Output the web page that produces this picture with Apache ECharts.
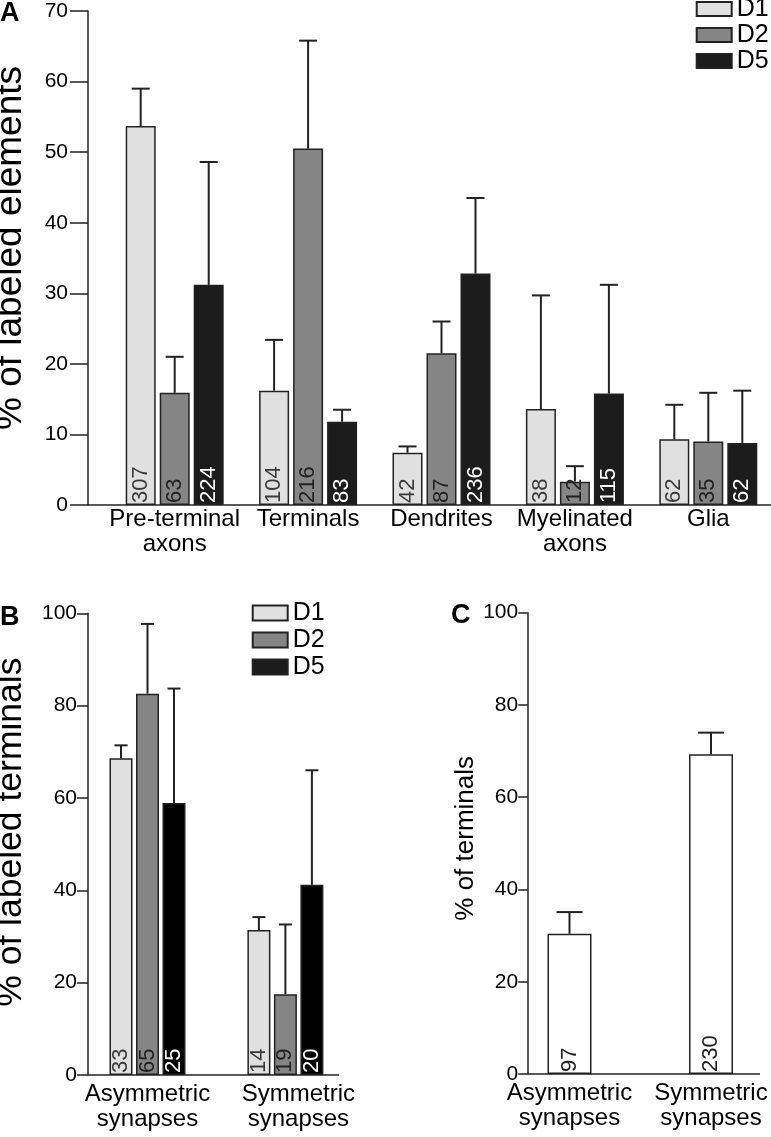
<!DOCTYPE html>
<html><head><meta charset="utf-8">
<script src="https://cdn.jsdelivr.net/npm/echarts@6/dist/echarts.min.js"></script>
<style>html,body{margin:0;padding:0;background:#fff}#c{width:771px;height:1137px}</style>
</head><body><div id="c"></div>
<script>
// ---------- DATA ----------
const seriesNames = ['D1', 'D2', 'D5'];
// Panel A
const catsA = ['Pre-terminal\naxons', 'Terminals', 'Dendrites', 'Myelinated\naxons', 'Glia'];
const meanA_D1 = [53.7, 16.2, 7.4, 13.6, 9.3];
const meanA_D2 = [15.9, 50.5, 21.5, 3.3, 9.0];
const meanA_D5 = [31.2, 11.8, 32.8, 15.8, 8.8];
const errA_D1 = [5.3, 7.2, 0.9, 16.1, 4.9];
const errA_D2 = [5.1, 15.3, 4.5, 2.2, 6.9];
const errA_D5 = [17.4, 1.7, 10.7, 15.4, 7.4];
const nA_D1 = [307, 104, 42, 38, 62];
const nA_D2 = [63, 216, 87, 12, 35];
const nA_D5 = [224, 83, 236, 115, 62];
// Panel B
const catsB = ['Asymmetric\nsynapses', 'Symmetric\nsynapses'];
const meanB_D1 = [68.6, 31.4];
const meanB_D2 = [82.6, 17.5];
const meanB_D5 = [58.9, 41.2];
const errB_D1 = [2.8, 2.8];
const errB_D2 = [15.1, 15.1];
const errB_D5 = [24.8, 24.8];
const nB_D1 = [33, 14];
const nB_D2 = [65, 19];
const nB_D5 = [25, 20];
// Panel C
const catsC = ['Asymmetric\nsynapses', 'Symmetric\nsynapses'];
const meanC = [30.4, 69.3];
const errC = [4.7, 4.7];
const nC = [97, 230];
// Axis ranges
const yMaxA = 70, yStepA = 10;
const yMaxBC = 100, yStepBC = 20;

// ---------- STYLE ----------
const FONT = '"Liberation Sans", Arial, Helvetica, sans-serif';
const INK = '#000';
const fills = { D1: '#e0e0e0', D2: '#858585', D5A: '#1c1c1c', D5B: '#000000' };
const labelColors = { D1: '#3a3a3a', D2: '#222', D5: '#fff' };

const chart = echarts.init(document.getElementById('c'), null, { renderer: 'canvas' });

function barSeries(name, xi, means, ns, fill, lblColor, barW, gapPct) {
  return {
    name, type: 'bar', xAxisIndex: xi, yAxisIndex: xi,
    data: means, barWidth: barW, barGap: gapPct,
    itemStyle: { color: fill, borderColor: '#222', borderWidth: 1.5 },
    label: {
      show: true, position: 'insideBottom', rotate: 90, align: 'left', verticalAlign: 'middle',
      distance: 2, fontSize: 22, fontFamily: FONT, color: lblColor,
      formatter: p => String(ns[p.dataIndex])
    },
    emphasis: { disabled: true }, animation: false
  };
}
function errSeries(xi, means, errs, idx, nSer, barW, gapPx, capW) {
  return {
    type: 'custom', xAxisIndex: xi, yAxisIndex: xi, silent: true, z: 5, animation: false,
    data: means.map((m, i) => [i, m, m + errs[i]]),
    renderItem(params, api) {
      const c0 = api.coord([api.value(0), api.value(1)]);
      const c1 = api.coord([api.value(0), api.value(2)]);
      const x = c0[0] + (idx - (nSer - 1) / 2) * (barW + gapPx);
      return { type: 'group', children: [
        { type: 'line', shape: { x1: x, y1: c0[1], x2: x, y2: c1[1] }, style: { stroke: '#222', lineWidth: 2 } },
        { type: 'line', shape: { x1: x - capW / 2, y1: c1[1], x2: x + capW / 2, y2: c1[1] }, style: { stroke: '#222', lineWidth: 2 } }
      ] };
    }
  };
}
function yAxis(gi, max, step, offset, tickLen, margin, name, nameSize, nameGap, namePad) {
  return {
    gridIndex: gi, type: 'value', min: 0, max, interval: step, offset,
    axisLine: { show: true, lineStyle: { color: '#222', width: 1.5 } },
    axisTick: { show: true, length: tickLen, lineStyle: { color: '#222', width: 1.5 } },
    axisLabel: { fontSize: 21, fontFamily: FONT, color: INK, margin },
    splitLine: { show: false },
    name, nameLocation: 'middle', nameRotate: 90, nameGap,
    nameTextStyle: { fontSize: nameSize, fontFamily: FONT, color: INK, padding: [0, 0, 0, namePad] }
  };
}
function xAxis(gi, data, margin) {
  return {
    gridIndex: gi, type: 'category', data,
    axisLine: { show: false }, axisTick: { show: false },
    axisLabel: { fontSize: 24, lineHeight: 25, fontFamily: FONT, color: INK, margin, interval: 0 }
  };
}

const bwA = 30, gapA = 4, bwB = 23, gapB = 3.5, bwC = 44;
const dataB = catsB.map((c, i) => i === 1 ? { value: c, textStyle: { padding: [0, 0, 0, 26] } } : c);

const gridBase = { outerBoundsMode: 'none', containLabel: false };
const option = {
  animation: false,
  backgroundColor: '#fff',
  textStyle: { fontFamily: FONT },
  grid: [
    Object.assign({ left: 108, top: 11, width: 667, height: 494 }, gridBase),
    Object.assign({ left: 78.55, top: 613.3, width: 275.8, height: 461.7 }, gridBase),
    Object.assign({ left: 498.75, top: 612.7, width: 283, height: 461.3 }, gridBase)
  ],
  legend: [
    { data: seriesNames, orient: 'vertical', left: 695.7, top: -4, padding: 0, itemGap: 0,
      itemWidth: 35, itemHeight: 14, icon: 'rect', selectedMode: false,
      textStyle: { fontSize: 25, lineHeight: 26, color: INK, fontFamily: FONT } },
    { data: seriesNames, orient: 'vertical', left: 251.7, top: 599.5, padding: 0, itemGap: 0,
      itemWidth: 35, itemHeight: 15, icon: 'rect', selectedMode: false,
      textStyle: { fontSize: 25, lineHeight: 27, color: INK, fontFamily: FONT } }
  ],
  xAxis: [xAxis(0, catsA, 2), xAxis(1, dataB, 7), xAxis(2, catsC, 7)],
  yAxis: [
    yAxis(0, yMaxA, yStepA, 20, 18, 20, '% of labeled elements', 37, 59, 20),
    yAxis(1, yMaxBC, yStepBC, -9.45, 11, 11, '% of labeled terminals', 35.5, 59, 24),
    yAxis(2, yMaxBC, yStepBC, -28.95, 9.5, 9.5, '% of terminals', 26, 42, 10)
  ],
  series: [
    barSeries('D1', 0, meanA_D1, nA_D1, fills.D1, labelColors.D1, bwA, (gapA / bwA * 100) + '%'),
    barSeries('D2', 0, meanA_D2, nA_D2, fills.D2, labelColors.D2, bwA, (gapA / bwA * 100) + '%'),
    barSeries('D5', 0, meanA_D5, nA_D5, fills.D5A, labelColors.D5, bwA, (gapA / bwA * 100) + '%'),
    barSeries('D1', 1, meanB_D1, nB_D1, fills.D1, labelColors.D1, bwB, (gapB / bwB * 100) + '%'),
    barSeries('D2', 1, meanB_D2, nB_D2, fills.D2, labelColors.D2, bwB, (gapB / bwB * 100) + '%'),
    barSeries('D5', 1, meanB_D5, nB_D5, fills.D5B, labelColors.D5, bwB, (gapB / bwB * 100) + '%'),
    barSeries('C', 2, meanC, nC, '#ffffff', '#222', bwC, '0%'),
    errSeries(0, meanA_D1, errA_D1, 0, 3, bwA, gapA, 18),
    errSeries(0, meanA_D2, errA_D2, 1, 3, bwA, gapA, 18),
    errSeries(0, meanA_D5, errA_D5, 2, 3, bwA, gapA, 18),
    errSeries(1, meanB_D1, errB_D1, 0, 3, bwB, gapB, 13),
    errSeries(1, meanB_D2, errB_D2, 1, 3, bwB, gapB, 13),
    errSeries(1, meanB_D5, errB_D5, 2, 3, bwB, gapB, 13),
    errSeries(2, meanC, errC, 0, 1, bwC, 0, 26)
  ]
};
chart.setOption(option);

// x-axis baselines drawn from each y-axis line to the panel's right end, at value 0
const y0A = chart.convertToPixel({ yAxisIndex: 0 }, 0);
const y0B = chart.convertToPixel({ yAxisIndex: 1 }, 0);
const y0C = chart.convertToPixel({ yAxisIndex: 2 }, 0);
const axA = 108 - 20, axB = 78.55 + 9.45, axC = 498.75 + 28.95;
const lineStyle = { stroke: '#222', lineWidth: 1.5 };
chart.setOption({
  graphic: [
    { type: 'line', shape: { x1: axA, y1: y0A, x2: 771, y2: y0A }, style: lineStyle, z: 10 },
    { type: 'line', shape: { x1: axB, y1: y0B, x2: 339, y2: y0B }, style: lineStyle, z: 10 },
    { type: 'line', shape: { x1: axC, y1: y0C, x2: 760, y2: y0C }, style: lineStyle, z: 10 },
    { type: 'text', left: 0, top: 0, style: { text: 'A', font: 'bold 27px ' + FONT, fill: '#000' } },
    { type: 'text', left: 0, top: 604, style: { text: 'B', font: 'bold 27px ' + FONT, fill: '#000' } },
    { type: 'text', left: 451, top: 602, style: { text: 'C', font: 'bold 27px ' + FONT, fill: '#000' } }
  ]
});
</script></body></html>
